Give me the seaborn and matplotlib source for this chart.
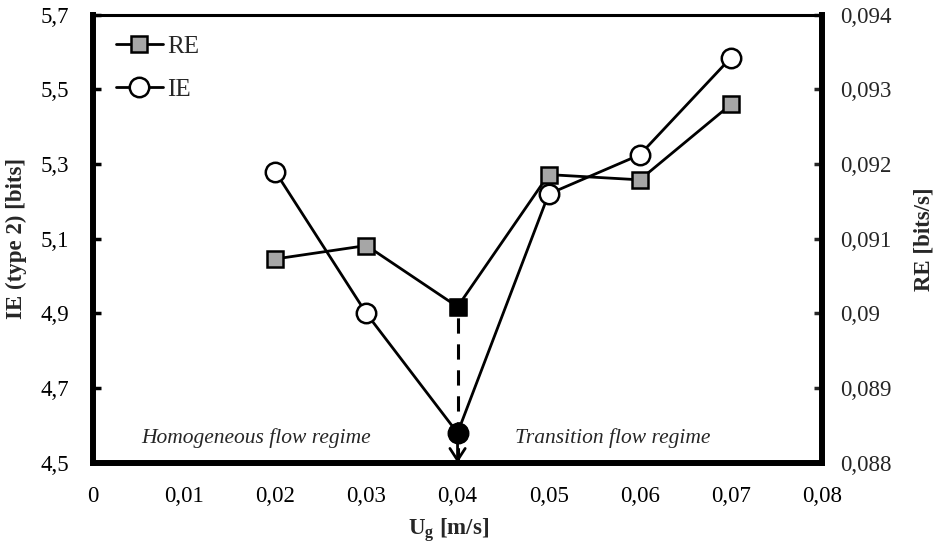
import matplotlib.pyplot as plt
import seaborn as sns
from matplotlib.lines import Line2D
from matplotlib.ticker import FixedLocator, FuncFormatter

# data
ug = [0.02, 0.03, 0.04, 0.05, 0.06, 0.07]
ie = [5.28, 4.90, 4.58, 5.22, 5.325, 5.585]
re = [0.09073, 0.09091, 0.09009, 0.09186, 0.09179, 0.0928]
min_idx = 2  # transition point, drawn in black

x_ticks = [0, 0.01, 0.02, 0.03, 0.04, 0.05, 0.06, 0.07, 0.08]
ie_ticks = [4.5, 4.7, 4.9, 5.1, 5.3, 5.5, 5.7]
re_ticks = [0.088, 0.089, 0.09, 0.091, 0.092, 0.093, 0.094]


def comma(v, pos=None):
    return ("%g" % round(v, 6)).replace(".", ",")


def main():
    sns.set_style("white")
    plt.rcParams["font.family"] = ["Liberation Serif", "DejaVu Serif"]
    plt.rcParams["mathtext.fontset"] = "custom"
    plt.rcParams["mathtext.rm"] = "Liberation Serif"
    plt.rcParams["mathtext.bf"] = "Liberation Serif:bold"

    fig, ax = plt.subplots(figsize=(9.4, 5.49), dpi=100)
    fig.subplots_adjust(left=0.099, right=0.8745, top=0.973, bottom=0.157)
    ax2 = ax.twinx()

    # RE on right axis
    sns.lineplot(x=ug, y=re, ax=ax2, color="black", lw=2, marker="s", markersize=12,
                 markerfacecolor="#a6a6a6", markeredgecolor="black", markeredgewidth=1.8)
    ax2.vlines(ug[min_idx], re_ticks[0], re[min_idx], colors="black",
               linestyles=(0, (5, 3.5)), lw=2.2, zorder=1)
    ax2.plot(ug[min_idx], re[min_idx], "s", markersize=12, color="black", zorder=5)
    ax2.annotate("", xy=(ug[min_idx], re_ticks[0]), xytext=(0, 14), textcoords="offset points",
                 arrowprops=dict(arrowstyle="->,head_length=0.85,head_width=0.55",
                                 lw=2, color="black", shrinkA=0, shrinkB=0))

    # IE on left axis, drawn on top
    sns.lineplot(x=ug, y=ie, ax=ax, color="black", lw=2, marker="o", markersize=14,
                 markerfacecolor="white", markeredgecolor="black", markeredgewidth=1.8)
    ax.plot(ug[min_idx], ie[min_idx], "o", markersize=14, color="black", zorder=5)
    ax.set_zorder(ax2.get_zorder() + 1)
    ax.patch.set_visible(False)

    ax.set_xlim(x_ticks[0], x_ticks[-1])
    ax.set_ylim(ie_ticks[0], ie_ticks[-1])
    ax2.set_ylim(re_ticks[0], re_ticks[-1])
    ax.xaxis.set_major_locator(FixedLocator(x_ticks))
    ax.yaxis.set_major_locator(FixedLocator(ie_ticks))
    ax2.yaxis.set_major_locator(FixedLocator(re_ticks))
    for a in (ax.xaxis, ax.yaxis, ax2.yaxis):
        a.set_major_formatter(FuncFormatter(comma))

    ax.tick_params(axis="both", direction="in", length=6, width=2.5, labelsize=16.5,
                   top=False, right=False, colors="black")
    ax.tick_params(axis="y", pad=17.5)
    ax.tick_params(axis="x", pad=16.5)
    ax2.tick_params(axis="y", direction="in", length=6, width=2.5, labelsize=16.5, pad=13)

    for side in ("left", "bottom", "right"):
        ax.spines[side].set_linewidth(4.3)
        ax.spines[side].set_color("black")
    ax.spines["top"].set_linewidth(2.2)
    ax.spines["top"].set_color("black")
    for s in ax2.spines.values():
        s.set_visible(False)

    ax.set_xlabel("U$_\\mathbf{g}$ [m/s]", fontsize=16.5, fontweight="bold")
    ax.xaxis.set_label_coords(0.488, -0.12)
    ax.set_ylabel("IE (type 2) [bits]", fontsize=16.5, fontweight="bold", labelpad=9.5)
    ax2.set_ylabel("RE [bits/s]", fontsize=16.5, fontweight="bold", labelpad=16)

    ax.text(0.224, 0.056, "Homogeneous flow regime", transform=ax.transAxes, ha="center",
            va="center", fontsize=15.5, fontstyle="italic")
    ax.text(0.7126, 0.056, "Transition flow regime", transform=ax.transAxes, ha="center",
            va="center", fontsize=15.5, fontstyle="italic")

    handles = [
        Line2D([], [], color="black", lw=2, marker="s", markersize=12,
               markerfacecolor="#a6a6a6", markeredgecolor="black", markeredgewidth=1.8),
        Line2D([], [], color="black", lw=2, marker="o", markersize=14,
               markerfacecolor="white", markeredgecolor="black", markeredgewidth=1.8),
    ]
    ax.legend(handles, ["RE", "IE"], loc="upper left", frameon=False, fontsize=18,
              handlelength=1.9, handletextpad=0.15, labelspacing=0.83,
              bbox_to_anchor=(0.0, 1.005))

    fig.savefig("out.png", dpi=100)


if __name__ == "__main__":
    main()
